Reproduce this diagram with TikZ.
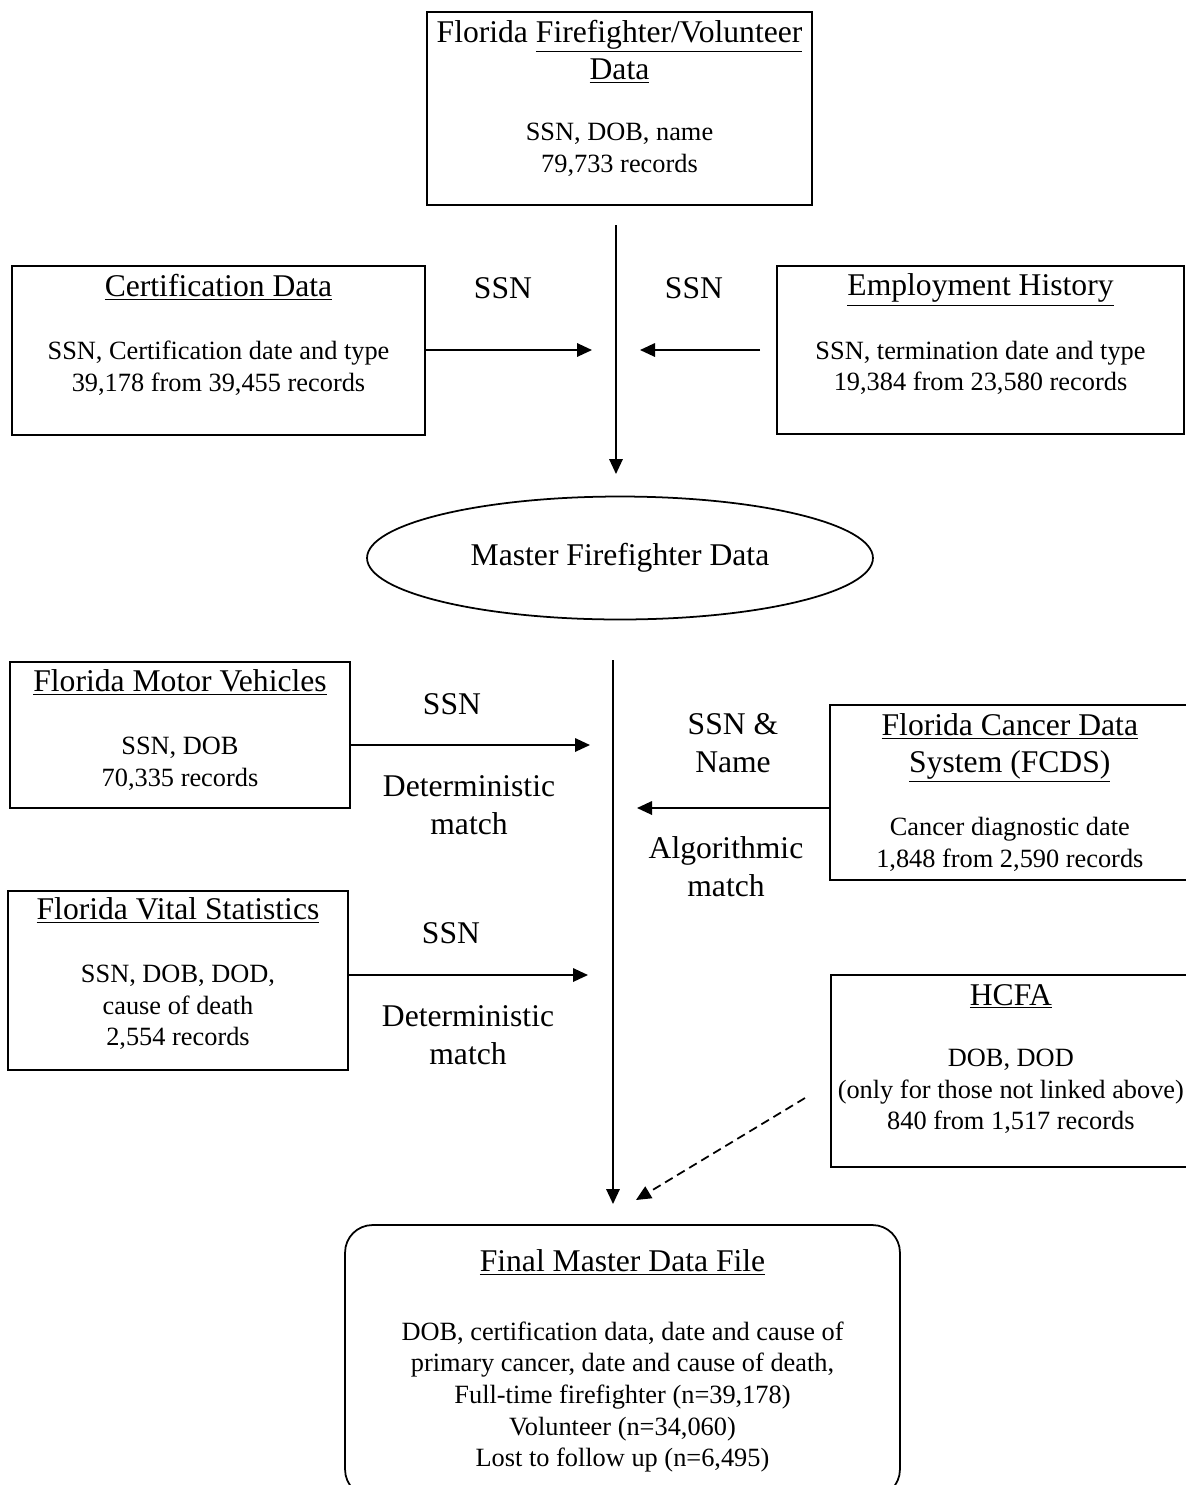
\documentclass[tikz,border=0pt]{standalone}
\usepackage{fontspec}
\setmainfont{Liberation Serif}
\usetikzlibrary{arrows.meta,shapes.geometric}

\newcommand{\hd}[1]{{\fontsize{18}{21}\selectfont\underline{#1}}}

\tikzset{
    srcbox/.style={draw, line width=1pt, align=center, inner sep=0pt,
        font=\fontsize{15}{18}\selectfont},
    lbl/.style={align=center, font=\fontsize{18}{21.5}\selectfont},
    arr/.style={line width=1pt, -{Triangle[length=0.3cm,width=0.27cm]}}
}

\begin{document}
\begin{tikzpicture}[x=0.02cm,y=-0.02cm]
    \path[use as bounding box] (0,0) rectangle (1186,1485);
    \clip (0,0) rectangle (1186,1485);

    \node[srcbox, minimum width=7.7cm, minimum height=3.86cm] (ffdata) at (619.5,108.5)
        {{\fontsize{18}{21}\selectfont Florida \underline{Firefighter/Volunteer}}\\[3pt]
         \hd{Data}\\[17pt]
         SSN, DOB, name\\79,733 records\\[-4pt]{}};
    \node[srcbox, minimum width=8.26cm, minimum height=3.38cm] (cert) at (218.5,350.5)
        {\hd{Certification Data}\\[18pt]
         SSN, Certification date and type\\39,178 from 39,455 records\\[2pt]{}};
    \node[srcbox, minimum width=8.14cm, minimum height=3.36cm] (emp) at (980.5,350)
        {\hd{Employment History}\\[18pt]
         SSN, termination date and type\\19,384 from 23,580 records\\[2pt]{}};

    \node[lbl] (ssnA) at (503,288) {SSN};
    \node[lbl] (ssnB) at (694,288) {SSN};

    \coordinate (inA) at (592,350);
    \coordinate (outB) at (760,350);
    \coordinate (inB) at (640,350);
    \coordinate (t1) at (616,225);
    \coordinate (t2) at (616,474);

    \draw[arr] (cert.east |- inA) -- (inA);
    \draw[arr] (outB) -- (inB);
    \draw[arr] (t1) -- (t2);

    \node[draw, ellipse, line width=1pt, minimum width=10.12cm, minimum height=2.46cm,
        font=\fontsize{18}{21}\selectfont] (master) at (620,558) {Master Firefighter Data};

    \node[srcbox, minimum width=6.8cm, minimum height=2.92cm] (motor) at (180,735)
        {\hd{Florida Motor Vehicles}\\[18pt]
         SSN, DOB\\70,335 records\\[-10pt]{}};
    \node[srcbox, minimum width=7.2cm, minimum height=3.5cm, anchor=west] (fcds) at (829,792.5)
        {\hd{Florida Cancer Data}\\[3pt]
         \hd{System (FCDS)}\\[18pt]
         Cancer diagnostic date\\1,848 from 2,590 records};
    \node[srcbox, minimum width=6.8cm, minimum height=3.58cm] (vital) at (178,980.5)
        {\hd{Florida Vital Statistics}\\[18pt]
         SSN, DOB, DOD,\\cause of death\\2,554 records\\[-8pt]{}};
    \node[srcbox, minimum width=7.2cm, minimum height=3.84cm, anchor=west] (hcfa) at (830,1071)
        {\hd{HCFA}\\[17pt]
         DOB, DOD\\(only for those not linked above)\\840 from 1,517 records\\[-2pt]{}};

    \node[lbl] (ssnC) at (452,704) {SSN};
    \node[lbl] (detA) at (469,805) {Deterministic\\match};
    \node[lbl] (ssnname) at (733,743) {SSN \&\\Name};
    \node[lbl] (algo) at (726,867) {Algorithmic\\match};
    \node[lbl] (ssnD) at (451,933) {SSN};
    \node[lbl] (detB) at (468,1035) {Deterministic\\match};

    \coordinate (inC) at (590,745);
    \coordinate (inD) at (637,808);
    \coordinate (inE) at (588,975);
    \coordinate (t3) at (613,660);
    \coordinate (t4) at (613,1204);
    \coordinate (d1) at (805,1098);
    \coordinate (d2) at (636,1200);

    \draw[arr] (motor.east |- inC) -- (inC);
    \draw[arr] (fcds.west |- inD) -- (inD);
    \draw[arr] (vital.east |- inE) -- (inE);
    \draw[arr] (t3) -- (t4);
    \draw[arr, dash pattern=on 5pt off 3pt] (d1) -- (d2);

    \node[srcbox, rounded corners=0.55cm, minimum width=11.1cm, minimum height=5.44cm] (final) at (622.5,1361)
        {\hd{Final Master Data File}\\[21pt]
         DOB, certification data, date and cause of\\
         primary cancer, date and cause of death,\\
         Full-time firefighter (n=39,178)\\
         Volunteer (n=34,060)\\
         Lost to follow up (n=6,495)};
\end{tikzpicture}
\end{document}
